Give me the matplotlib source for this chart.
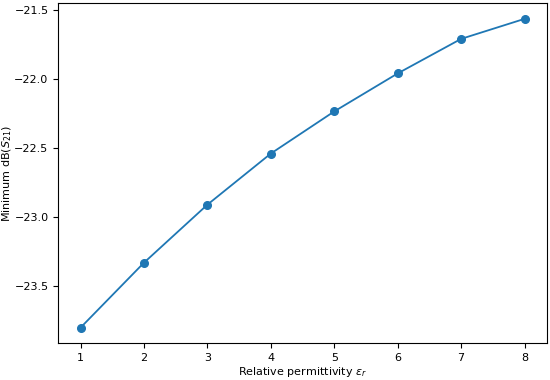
import matplotlib
matplotlib.use("Agg")
import matplotlib.pyplot as plt

eps_r = [1, 2, 3, 4, 5, 6, 7, 8]
min_s21 = [-23.80, -23.33, -22.91, -22.54, -22.235, -21.96, -21.71, -21.565]

fig = plt.figure(figsize=(5.5, 3.8), dpi=100)
ax = fig.add_axes([0.106, 0.097, 0.888, 0.894])
ax.plot(eps_r, min_s21, marker='o', color='#1f77b4', linewidth=1.3, markersize=5.5)
ax.set_xlabel(r'Relative permittivity $\varepsilon_r$', fontsize=8)
ax.set_ylabel(r'Minimum dB($S_{21}$)', fontsize=8)
ax.yaxis.set_label_coords(-0.09, 0.5)
ax.xaxis.set_label_coords(0.5, -0.064)
ax.tick_params(labelsize=8)
fig.savefig('out.png', dpi=100)
